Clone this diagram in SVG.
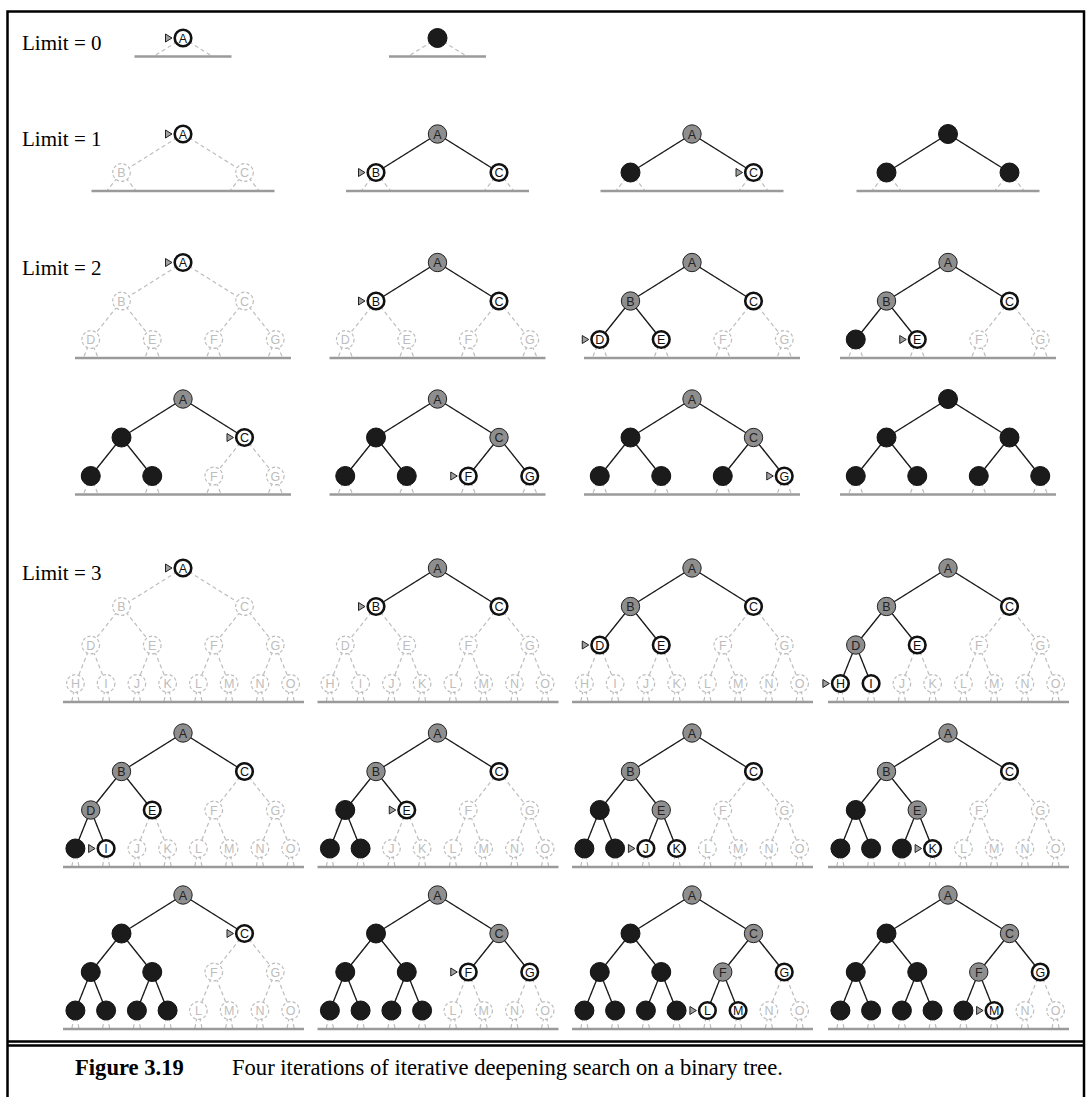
<svg xmlns="http://www.w3.org/2000/svg" xmlns:xlink="http://www.w3.org/1999/xlink" width="1089" height="1097" viewBox="0 0 1089 1097">
<style>
.lbl{font-family:"Liberation Serif","Times New Roman",serif;font-size:21px;fill:#000}
.cap{font-family:"Liberation Serif","Times New Roman",serif;font-size:22.6px;fill:#000}
.u text,.f text,.e text{font-family:"Liberation Sans",Arial,sans-serif;font-size:12.5px;text-anchor:middle}
.u circle{fill:#fff;stroke:#bdbdbd;stroke-width:1.2;stroke-dasharray:3.2 2.2;r:8.8px}
.u text{fill:#bdbdbd}
.f circle{fill:#fff;stroke:#111;stroke-width:2.6;r:8.3px}
.f text{fill:#111}
.e circle{fill:#8e8e8e;stroke:#222;stroke-width:1;r:9.2px}
.e text{fill:#222}
.x circle{fill:#1b1b1b;stroke:#111;stroke-width:1;r:9.5px}
.mk{fill:#a0a0a0;stroke:#222;stroke-width:1}
.dash{fill:none;stroke:#bdbdbd;stroke-width:1.2;stroke-dasharray:4 3}
.base{fill:none;stroke:#9a9a9a;stroke-width:2.6}
.solid{fill:none;stroke:#1a1a1a;stroke-width:1.3}
.frame{fill:none;stroke:#000;stroke-width:2.5}
</style>
<defs>
<g id="sk0"><path class="dash" d="M0 0L-29.55 18.5M0 0L29.55 18.5"/><path class="base" d="M-48.5 18.5H48.5"/></g>
<g id="sk1"><path class="dash" d="M0 0L-61.5 38.5M0 0L61.5 38.5M-61.5 38.5L-76.3 57M-61.5 38.5L-46.7 57M61.5 38.5L46.7 57M61.5 38.5L76.3 57"/><path class="base" d="M-91.5 57H91.5"/></g>
<g id="sk2"><path class="dash" d="M0 0L-61.5 38.5M0 0L61.5 38.5M-61.5 38.5L-92.25 77M-61.5 38.5L-30.75 77M61.5 38.5L30.75 77M61.5 38.5L92.25 77M-92.25 77L-99.65 95.5M-92.25 77L-84.85 95.5M-30.75 77L-38.15 95.5M-30.75 77L-23.35 95.5M30.75 77L23.35 95.5M30.75 77L38.15 95.5M92.25 77L84.85 95.5M92.25 77L99.65 95.5"/><path class="base" d="M-108 95.5H108"/></g>
<g id="sk3"><path class="dash" d="M0 0L-61.5 38.5M0 0L61.5 38.5M-61.5 38.5L-92.25 77M-61.5 38.5L-30.75 77M61.5 38.5L30.75 77M61.5 38.5L92.25 77M-92.25 77L-107.6 115.5M-92.25 77L-76.9 115.5M-30.75 77L-46.1 115.5M-30.75 77L-15.4 115.5M30.75 77L15.4 115.5M30.75 77L46.1 115.5M92.25 77L76.9 115.5M92.25 77L107.6 115.5M-107.6 115.5L-111.3 134M-107.6 115.5L-103.9 134M-76.9 115.5L-80.6 134M-76.9 115.5L-73.2 134M-46.1 115.5L-49.8 134M-46.1 115.5L-42.4 134M-15.4 115.5L-19.1 134M-15.4 115.5L-11.7 134M15.4 115.5L11.7 134M15.4 115.5L19.1 134M46.1 115.5L42.4 134M46.1 115.5L49.8 134M76.9 115.5L73.2 134M76.9 115.5L80.6 134M107.6 115.5L103.9 134M107.6 115.5L111.3 134"/><path class="base" d="M-120 134H121"/></g>
</defs>
<rect width="1089" height="1097" fill="#fff"/>
<g id="frame">
<path class="frame" d="M7.5 1097V11.5H1084V1097"/>
<path class="frame" d="M7.5 1041.5H1084M7.5 1045.5H1084"/>
</g>
<g id="labels">
<text class="lbl" x="22" y="49.5">Limit = 0</text>
<text class="lbl" x="22" y="146">Limit = 1</text>
<text class="lbl" x="22" y="274.5">Limit = 2</text>
<text class="lbl" x="22" y="580">Limit = 3</text>
</g>
<g id="connectors">
<use xlink:href="#sk0" x="183" y="38"/>
<use xlink:href="#sk0" x="437.5" y="38"/>
<use xlink:href="#sk1" x="183" y="134"/>
<use xlink:href="#sk1" x="437.5" y="134"/>
<use xlink:href="#sk1" x="692" y="134"/>
<use xlink:href="#sk1" x="948" y="134"/>
<use xlink:href="#sk2" x="183" y="262.5"/>
<use xlink:href="#sk2" x="437.5" y="262.5"/>
<use xlink:href="#sk2" x="692" y="262.5"/>
<use xlink:href="#sk2" x="948" y="262.5"/>
<use xlink:href="#sk2" x="183" y="399"/>
<use xlink:href="#sk2" x="437.5" y="399"/>
<use xlink:href="#sk2" x="692" y="399"/>
<use xlink:href="#sk2" x="948" y="399"/>
<use xlink:href="#sk3" x="183" y="568"/>
<use xlink:href="#sk3" x="437.5" y="568"/>
<use xlink:href="#sk3" x="692" y="568"/>
<use xlink:href="#sk3" x="948" y="568"/>
<use xlink:href="#sk3" x="183" y="733"/>
<use xlink:href="#sk3" x="437.5" y="733"/>
<use xlink:href="#sk3" x="692" y="733"/>
<use xlink:href="#sk3" x="948" y="733"/>
<use xlink:href="#sk3" x="183" y="895"/>
<use xlink:href="#sk3" x="437.5" y="895"/>
<use xlink:href="#sk3" x="692" y="895"/>
<use xlink:href="#sk3" x="948" y="895"/>
<path class="solid" transform="translate(437.5 134)" d="M-61.5 38.5L0 0L61.5 38.5"/>
<path class="solid" transform="translate(692 134)" d="M-61.5 38.5L0 0L61.5 38.5"/>
<path class="solid" transform="translate(948 134)" d="M-61.5 38.5L0 0L61.5 38.5"/>
<path class="solid" transform="translate(437.5 262.5)" d="M-61.5 38.5L0 0L61.5 38.5"/>
<path class="solid" transform="translate(692 262.5)" d="M-61.5 38.5L0 0L61.5 38.5M-92.25 77L-61.5 38.5L-30.75 77"/>
<path class="solid" transform="translate(948 262.5)" d="M-61.5 38.5L0 0L61.5 38.5M-92.25 77L-61.5 38.5L-30.75 77"/>
<path class="solid" transform="translate(183 399)" d="M-61.5 38.5L0 0L61.5 38.5M-92.25 77L-61.5 38.5L-30.75 77"/>
<path class="solid" transform="translate(437.5 399)" d="M-61.5 38.5L0 0L61.5 38.5M-92.25 77L-61.5 38.5L-30.75 77M30.75 77L61.5 38.5L92.25 77"/>
<path class="solid" transform="translate(692 399)" d="M-61.5 38.5L0 0L61.5 38.5M-92.25 77L-61.5 38.5L-30.75 77M30.75 77L61.5 38.5L92.25 77"/>
<path class="solid" transform="translate(948 399)" d="M-61.5 38.5L0 0L61.5 38.5M-92.25 77L-61.5 38.5L-30.75 77M30.75 77L61.5 38.5L92.25 77"/>
<path class="solid" transform="translate(437.5 568)" d="M-61.5 38.5L0 0L61.5 38.5"/>
<path class="solid" transform="translate(692 568)" d="M-61.5 38.5L0 0L61.5 38.5M-92.25 77L-61.5 38.5L-30.75 77"/>
<path class="solid" transform="translate(948 568)" d="M-61.5 38.5L0 0L61.5 38.5M-92.25 77L-61.5 38.5L-30.75 77M-107.6 115.5L-92.25 77L-76.9 115.5"/>
<path class="solid" transform="translate(183 733)" d="M-61.5 38.5L0 0L61.5 38.5M-92.25 77L-61.5 38.5L-30.75 77M-107.6 115.5L-92.25 77L-76.9 115.5"/>
<path class="solid" transform="translate(437.5 733)" d="M-61.5 38.5L0 0L61.5 38.5M-92.25 77L-61.5 38.5L-30.75 77M-107.6 115.5L-92.25 77L-76.9 115.5"/>
<path class="solid" transform="translate(692 733)" d="M-61.5 38.5L0 0L61.5 38.5M-92.25 77L-61.5 38.5L-30.75 77M-107.6 115.5L-92.25 77L-76.9 115.5M-46.1 115.5L-30.75 77L-15.4 115.5"/>
<path class="solid" transform="translate(948 733)" d="M-61.5 38.5L0 0L61.5 38.5M-92.25 77L-61.5 38.5L-30.75 77M-107.6 115.5L-92.25 77L-76.9 115.5M-46.1 115.5L-30.75 77L-15.4 115.5"/>
<path class="solid" transform="translate(183 895)" d="M-61.5 38.5L0 0L61.5 38.5M-92.25 77L-61.5 38.5L-30.75 77M-107.6 115.5L-92.25 77L-76.9 115.5M-46.1 115.5L-30.75 77L-15.4 115.5"/>
<path class="solid" transform="translate(437.5 895)" d="M-61.5 38.5L0 0L61.5 38.5M-92.25 77L-61.5 38.5L-30.75 77M30.75 77L61.5 38.5L92.25 77M-107.6 115.5L-92.25 77L-76.9 115.5M-46.1 115.5L-30.75 77L-15.4 115.5"/>
<path class="solid" transform="translate(692 895)" d="M-61.5 38.5L0 0L61.5 38.5M-92.25 77L-61.5 38.5L-30.75 77M30.75 77L61.5 38.5L92.25 77M-107.6 115.5L-92.25 77L-76.9 115.5M-46.1 115.5L-30.75 77L-15.4 115.5M15.4 115.5L30.75 77L46.1 115.5"/>
<path class="solid" transform="translate(948 895)" d="M-61.5 38.5L0 0L61.5 38.5M-92.25 77L-61.5 38.5L-30.75 77M30.75 77L61.5 38.5L92.25 77M-107.6 115.5L-92.25 77L-76.9 115.5M-46.1 115.5L-30.75 77L-15.4 115.5M15.4 115.5L30.75 77L46.1 115.5"/>
</g>
<g id="nodes">
<g id="L0-1" transform="translate(183 38)">
<g id="L0-1-A" class="f"><circle r="8.3"/><text y="4.5">A</text><path class="mk" d="M-17.5 -4L-11 0L-17.5 4Z"/></g>
</g>
<g id="L0-2" transform="translate(437.5 38)">
<g id="L0-2-A" class="x"><circle r="9.5"/></g>
</g>
<g id="L1-1" transform="translate(183 134)">
<g id="L1-1-A" class="f"><circle r="8.3"/><text y="4.5">A</text><path class="mk" d="M-17.5 -4L-11 0L-17.5 4Z"/></g>
<g id="L1-1-B" class="u" transform="translate(-61.5 38.5)"><circle r="8.8"/><text y="4.5">B</text></g>
<g id="L1-1-C" class="u" transform="translate(61.5 38.5)"><circle r="8.8"/><text y="4.5">C</text></g>
</g>
<g id="L1-2" transform="translate(437.5 134)">
<g id="L1-2-A" class="e"><circle r="9.2"/><text y="4.5">A</text></g>
<g id="L1-2-B" class="f" transform="translate(-61.5 38.5)"><circle r="8.3"/><text y="4.5">B</text><path class="mk" d="M-17.5 -4L-11 0L-17.5 4Z"/></g>
<g id="L1-2-C" class="f" transform="translate(61.5 38.5)"><circle r="8.3"/><text y="4.5">C</text></g>
</g>
<g id="L1-3" transform="translate(692 134)">
<g id="L1-3-A" class="e"><circle r="9.2"/><text y="4.5">A</text></g>
<g id="L1-3-B" class="x" transform="translate(-61.5 38.5)"><circle r="9.5"/></g>
<g id="L1-3-C" class="f" transform="translate(61.5 38.5)"><circle r="8.3"/><text y="4.5">C</text><path class="mk" d="M-17.5 -4L-11 0L-17.5 4Z"/></g>
</g>
<g id="L1-4" transform="translate(948 134)">
<g id="L1-4-A" class="x"><circle r="9.5"/></g>
<g id="L1-4-B" class="x" transform="translate(-61.5 38.5)"><circle r="9.5"/></g>
<g id="L1-4-C" class="x" transform="translate(61.5 38.5)"><circle r="9.5"/></g>
</g>
<g id="L2a-1" transform="translate(183 262.5)">
<g id="L2a-1-A" class="f"><circle r="8.3"/><text y="4.5">A</text><path class="mk" d="M-17.5 -4L-11 0L-17.5 4Z"/></g>
<g id="L2a-1-B" class="u" transform="translate(-61.5 38.5)"><circle r="8.8"/><text y="4.5">B</text></g>
<g id="L2a-1-C" class="u" transform="translate(61.5 38.5)"><circle r="8.8"/><text y="4.5">C</text></g>
<g id="L2a-1-D" class="u" transform="translate(-92.25 77)"><circle r="8.8"/><text y="4.5">D</text></g>
<g id="L2a-1-E" class="u" transform="translate(-30.75 77)"><circle r="8.8"/><text y="4.5">E</text></g>
<g id="L2a-1-F" class="u" transform="translate(30.75 77)"><circle r="8.8"/><text y="4.5">F</text></g>
<g id="L2a-1-G" class="u" transform="translate(92.25 77)"><circle r="8.8"/><text y="4.5">G</text></g>
</g>
<g id="L2a-2" transform="translate(437.5 262.5)">
<g id="L2a-2-A" class="e"><circle r="9.2"/><text y="4.5">A</text></g>
<g id="L2a-2-B" class="f" transform="translate(-61.5 38.5)"><circle r="8.3"/><text y="4.5">B</text><path class="mk" d="M-17.5 -4L-11 0L-17.5 4Z"/></g>
<g id="L2a-2-C" class="f" transform="translate(61.5 38.5)"><circle r="8.3"/><text y="4.5">C</text></g>
<g id="L2a-2-D" class="u" transform="translate(-92.25 77)"><circle r="8.8"/><text y="4.5">D</text></g>
<g id="L2a-2-E" class="u" transform="translate(-30.75 77)"><circle r="8.8"/><text y="4.5">E</text></g>
<g id="L2a-2-F" class="u" transform="translate(30.75 77)"><circle r="8.8"/><text y="4.5">F</text></g>
<g id="L2a-2-G" class="u" transform="translate(92.25 77)"><circle r="8.8"/><text y="4.5">G</text></g>
</g>
<g id="L2a-3" transform="translate(692 262.5)">
<g id="L2a-3-A" class="e"><circle r="9.2"/><text y="4.5">A</text></g>
<g id="L2a-3-B" class="e" transform="translate(-61.5 38.5)"><circle r="9.2"/><text y="4.5">B</text></g>
<g id="L2a-3-C" class="f" transform="translate(61.5 38.5)"><circle r="8.3"/><text y="4.5">C</text></g>
<g id="L2a-3-D" class="f" transform="translate(-92.25 77)"><circle r="8.3"/><text y="4.5">D</text><path class="mk" d="M-17.5 -4L-11 0L-17.5 4Z"/></g>
<g id="L2a-3-E" class="f" transform="translate(-30.75 77)"><circle r="8.3"/><text y="4.5">E</text></g>
<g id="L2a-3-F" class="u" transform="translate(30.75 77)"><circle r="8.8"/><text y="4.5">F</text></g>
<g id="L2a-3-G" class="u" transform="translate(92.25 77)"><circle r="8.8"/><text y="4.5">G</text></g>
</g>
<g id="L2a-4" transform="translate(948 262.5)">
<g id="L2a-4-A" class="e"><circle r="9.2"/><text y="4.5">A</text></g>
<g id="L2a-4-B" class="e" transform="translate(-61.5 38.5)"><circle r="9.2"/><text y="4.5">B</text></g>
<g id="L2a-4-C" class="f" transform="translate(61.5 38.5)"><circle r="8.3"/><text y="4.5">C</text></g>
<g id="L2a-4-D" class="x" transform="translate(-92.25 77)"><circle r="9.5"/></g>
<g id="L2a-4-E" class="f" transform="translate(-30.75 77)"><circle r="8.3"/><text y="4.5">E</text><path class="mk" d="M-17.5 -4L-11 0L-17.5 4Z"/></g>
<g id="L2a-4-F" class="u" transform="translate(30.75 77)"><circle r="8.8"/><text y="4.5">F</text></g>
<g id="L2a-4-G" class="u" transform="translate(92.25 77)"><circle r="8.8"/><text y="4.5">G</text></g>
</g>
<g id="L2b-1" transform="translate(183 399)">
<g id="L2b-1-A" class="e"><circle r="9.2"/><text y="4.5">A</text></g>
<g id="L2b-1-B" class="x" transform="translate(-61.5 38.5)"><circle r="9.5"/></g>
<g id="L2b-1-C" class="f" transform="translate(61.5 38.5)"><circle r="8.3"/><text y="4.5">C</text><path class="mk" d="M-17.5 -4L-11 0L-17.5 4Z"/></g>
<g id="L2b-1-D" class="x" transform="translate(-92.25 77)"><circle r="9.5"/></g>
<g id="L2b-1-E" class="x" transform="translate(-30.75 77)"><circle r="9.5"/></g>
<g id="L2b-1-F" class="u" transform="translate(30.75 77)"><circle r="8.8"/><text y="4.5">F</text></g>
<g id="L2b-1-G" class="u" transform="translate(92.25 77)"><circle r="8.8"/><text y="4.5">G</text></g>
</g>
<g id="L2b-2" transform="translate(437.5 399)">
<g id="L2b-2-A" class="e"><circle r="9.2"/><text y="4.5">A</text></g>
<g id="L2b-2-B" class="x" transform="translate(-61.5 38.5)"><circle r="9.5"/></g>
<g id="L2b-2-C" class="e" transform="translate(61.5 38.5)"><circle r="9.2"/><text y="4.5">C</text></g>
<g id="L2b-2-D" class="x" transform="translate(-92.25 77)"><circle r="9.5"/></g>
<g id="L2b-2-E" class="x" transform="translate(-30.75 77)"><circle r="9.5"/></g>
<g id="L2b-2-F" class="f" transform="translate(30.75 77)"><circle r="8.3"/><text y="4.5">F</text><path class="mk" d="M-17.5 -4L-11 0L-17.5 4Z"/></g>
<g id="L2b-2-G" class="f" transform="translate(92.25 77)"><circle r="8.3"/><text y="4.5">G</text></g>
</g>
<g id="L2b-3" transform="translate(692 399)">
<g id="L2b-3-A" class="e"><circle r="9.2"/><text y="4.5">A</text></g>
<g id="L2b-3-B" class="x" transform="translate(-61.5 38.5)"><circle r="9.5"/></g>
<g id="L2b-3-C" class="e" transform="translate(61.5 38.5)"><circle r="9.2"/><text y="4.5">C</text></g>
<g id="L2b-3-D" class="x" transform="translate(-92.25 77)"><circle r="9.5"/></g>
<g id="L2b-3-E" class="x" transform="translate(-30.75 77)"><circle r="9.5"/></g>
<g id="L2b-3-F" class="x" transform="translate(30.75 77)"><circle r="9.5"/></g>
<g id="L2b-3-G" class="f" transform="translate(92.25 77)"><circle r="8.3"/><text y="4.5">G</text><path class="mk" d="M-17.5 -4L-11 0L-17.5 4Z"/></g>
</g>
<g id="L2b-4" transform="translate(948 399)">
<g id="L2b-4-A" class="x"><circle r="9.5"/></g>
<g id="L2b-4-B" class="x" transform="translate(-61.5 38.5)"><circle r="9.5"/></g>
<g id="L2b-4-C" class="x" transform="translate(61.5 38.5)"><circle r="9.5"/></g>
<g id="L2b-4-D" class="x" transform="translate(-92.25 77)"><circle r="9.5"/></g>
<g id="L2b-4-E" class="x" transform="translate(-30.75 77)"><circle r="9.5"/></g>
<g id="L2b-4-F" class="x" transform="translate(30.75 77)"><circle r="9.5"/></g>
<g id="L2b-4-G" class="x" transform="translate(92.25 77)"><circle r="9.5"/></g>
</g>
<g id="L3a-1" transform="translate(183 568)">
<g id="L3a-1-A" class="f"><circle r="8.3"/><text y="4.5">A</text><path class="mk" d="M-17.5 -4L-11 0L-17.5 4Z"/></g>
<g id="L3a-1-B" class="u" transform="translate(-61.5 38.5)"><circle r="8.8"/><text y="4.5">B</text></g>
<g id="L3a-1-C" class="u" transform="translate(61.5 38.5)"><circle r="8.8"/><text y="4.5">C</text></g>
<g id="L3a-1-D" class="u" transform="translate(-92.25 77)"><circle r="8.8"/><text y="4.5">D</text></g>
<g id="L3a-1-E" class="u" transform="translate(-30.75 77)"><circle r="8.8"/><text y="4.5">E</text></g>
<g id="L3a-1-F" class="u" transform="translate(30.75 77)"><circle r="8.8"/><text y="4.5">F</text></g>
<g id="L3a-1-G" class="u" transform="translate(92.25 77)"><circle r="8.8"/><text y="4.5">G</text></g>
<g id="L3a-1-H" class="u" transform="translate(-107.6 115.5)"><circle r="8.8"/><text y="4.5">H</text></g>
<g id="L3a-1-I" class="u" transform="translate(-76.9 115.5)"><circle r="8.8"/><text y="4.5">I</text></g>
<g id="L3a-1-J" class="u" transform="translate(-46.1 115.5)"><circle r="8.8"/><text y="4.5">J</text></g>
<g id="L3a-1-K" class="u" transform="translate(-15.4 115.5)"><circle r="8.8"/><text y="4.5">K</text></g>
<g id="L3a-1-L" class="u" transform="translate(15.4 115.5)"><circle r="8.8"/><text y="4.5">L</text></g>
<g id="L3a-1-M" class="u" transform="translate(46.1 115.5)"><circle r="8.8"/><text y="4.5">M</text></g>
<g id="L3a-1-N" class="u" transform="translate(76.9 115.5)"><circle r="8.8"/><text y="4.5">N</text></g>
<g id="L3a-1-O" class="u" transform="translate(107.6 115.5)"><circle r="8.8"/><text y="4.5">O</text></g>
</g>
<g id="L3a-2" transform="translate(437.5 568)">
<g id="L3a-2-A" class="e"><circle r="9.2"/><text y="4.5">A</text></g>
<g id="L3a-2-B" class="f" transform="translate(-61.5 38.5)"><circle r="8.3"/><text y="4.5">B</text><path class="mk" d="M-17.5 -4L-11 0L-17.5 4Z"/></g>
<g id="L3a-2-C" class="f" transform="translate(61.5 38.5)"><circle r="8.3"/><text y="4.5">C</text></g>
<g id="L3a-2-D" class="u" transform="translate(-92.25 77)"><circle r="8.8"/><text y="4.5">D</text></g>
<g id="L3a-2-E" class="u" transform="translate(-30.75 77)"><circle r="8.8"/><text y="4.5">E</text></g>
<g id="L3a-2-F" class="u" transform="translate(30.75 77)"><circle r="8.8"/><text y="4.5">F</text></g>
<g id="L3a-2-G" class="u" transform="translate(92.25 77)"><circle r="8.8"/><text y="4.5">G</text></g>
<g id="L3a-2-H" class="u" transform="translate(-107.6 115.5)"><circle r="8.8"/><text y="4.5">H</text></g>
<g id="L3a-2-I" class="u" transform="translate(-76.9 115.5)"><circle r="8.8"/><text y="4.5">I</text></g>
<g id="L3a-2-J" class="u" transform="translate(-46.1 115.5)"><circle r="8.8"/><text y="4.5">J</text></g>
<g id="L3a-2-K" class="u" transform="translate(-15.4 115.5)"><circle r="8.8"/><text y="4.5">K</text></g>
<g id="L3a-2-L" class="u" transform="translate(15.4 115.5)"><circle r="8.8"/><text y="4.5">L</text></g>
<g id="L3a-2-M" class="u" transform="translate(46.1 115.5)"><circle r="8.8"/><text y="4.5">M</text></g>
<g id="L3a-2-N" class="u" transform="translate(76.9 115.5)"><circle r="8.8"/><text y="4.5">N</text></g>
<g id="L3a-2-O" class="u" transform="translate(107.6 115.5)"><circle r="8.8"/><text y="4.5">O</text></g>
</g>
<g id="L3a-3" transform="translate(692 568)">
<g id="L3a-3-A" class="e"><circle r="9.2"/><text y="4.5">A</text></g>
<g id="L3a-3-B" class="e" transform="translate(-61.5 38.5)"><circle r="9.2"/><text y="4.5">B</text></g>
<g id="L3a-3-C" class="f" transform="translate(61.5 38.5)"><circle r="8.3"/><text y="4.5">C</text></g>
<g id="L3a-3-D" class="f" transform="translate(-92.25 77)"><circle r="8.3"/><text y="4.5">D</text><path class="mk" d="M-17.5 -4L-11 0L-17.5 4Z"/></g>
<g id="L3a-3-E" class="f" transform="translate(-30.75 77)"><circle r="8.3"/><text y="4.5">E</text></g>
<g id="L3a-3-F" class="u" transform="translate(30.75 77)"><circle r="8.8"/><text y="4.5">F</text></g>
<g id="L3a-3-G" class="u" transform="translate(92.25 77)"><circle r="8.8"/><text y="4.5">G</text></g>
<g id="L3a-3-H" class="u" transform="translate(-107.6 115.5)"><circle r="8.8"/><text y="4.5">H</text></g>
<g id="L3a-3-I" class="u" transform="translate(-76.9 115.5)"><circle r="8.8"/><text y="4.5">I</text></g>
<g id="L3a-3-J" class="u" transform="translate(-46.1 115.5)"><circle r="8.8"/><text y="4.5">J</text></g>
<g id="L3a-3-K" class="u" transform="translate(-15.4 115.5)"><circle r="8.8"/><text y="4.5">K</text></g>
<g id="L3a-3-L" class="u" transform="translate(15.4 115.5)"><circle r="8.8"/><text y="4.5">L</text></g>
<g id="L3a-3-M" class="u" transform="translate(46.1 115.5)"><circle r="8.8"/><text y="4.5">M</text></g>
<g id="L3a-3-N" class="u" transform="translate(76.9 115.5)"><circle r="8.8"/><text y="4.5">N</text></g>
<g id="L3a-3-O" class="u" transform="translate(107.6 115.5)"><circle r="8.8"/><text y="4.5">O</text></g>
</g>
<g id="L3a-4" transform="translate(948 568)">
<g id="L3a-4-A" class="e"><circle r="9.2"/><text y="4.5">A</text></g>
<g id="L3a-4-B" class="e" transform="translate(-61.5 38.5)"><circle r="9.2"/><text y="4.5">B</text></g>
<g id="L3a-4-C" class="f" transform="translate(61.5 38.5)"><circle r="8.3"/><text y="4.5">C</text></g>
<g id="L3a-4-D" class="e" transform="translate(-92.25 77)"><circle r="9.2"/><text y="4.5">D</text></g>
<g id="L3a-4-E" class="f" transform="translate(-30.75 77)"><circle r="8.3"/><text y="4.5">E</text></g>
<g id="L3a-4-F" class="u" transform="translate(30.75 77)"><circle r="8.8"/><text y="4.5">F</text></g>
<g id="L3a-4-G" class="u" transform="translate(92.25 77)"><circle r="8.8"/><text y="4.5">G</text></g>
<g id="L3a-4-H" class="f" transform="translate(-107.6 115.5)"><circle r="8.3"/><text y="4.5">H</text><path class="mk" d="M-17.5 -4L-11 0L-17.5 4Z"/></g>
<g id="L3a-4-I" class="f" transform="translate(-76.9 115.5)"><circle r="8.3"/><text y="4.5">I</text></g>
<g id="L3a-4-J" class="u" transform="translate(-46.1 115.5)"><circle r="8.8"/><text y="4.5">J</text></g>
<g id="L3a-4-K" class="u" transform="translate(-15.4 115.5)"><circle r="8.8"/><text y="4.5">K</text></g>
<g id="L3a-4-L" class="u" transform="translate(15.4 115.5)"><circle r="8.8"/><text y="4.5">L</text></g>
<g id="L3a-4-M" class="u" transform="translate(46.1 115.5)"><circle r="8.8"/><text y="4.5">M</text></g>
<g id="L3a-4-N" class="u" transform="translate(76.9 115.5)"><circle r="8.8"/><text y="4.5">N</text></g>
<g id="L3a-4-O" class="u" transform="translate(107.6 115.5)"><circle r="8.8"/><text y="4.5">O</text></g>
</g>
<g id="L3b-1" transform="translate(183 733)">
<g id="L3b-1-A" class="e"><circle r="9.2"/><text y="4.5">A</text></g>
<g id="L3b-1-B" class="e" transform="translate(-61.5 38.5)"><circle r="9.2"/><text y="4.5">B</text></g>
<g id="L3b-1-C" class="f" transform="translate(61.5 38.5)"><circle r="8.3"/><text y="4.5">C</text></g>
<g id="L3b-1-D" class="e" transform="translate(-92.25 77)"><circle r="9.2"/><text y="4.5">D</text></g>
<g id="L3b-1-E" class="f" transform="translate(-30.75 77)"><circle r="8.3"/><text y="4.5">E</text></g>
<g id="L3b-1-F" class="u" transform="translate(30.75 77)"><circle r="8.8"/><text y="4.5">F</text></g>
<g id="L3b-1-G" class="u" transform="translate(92.25 77)"><circle r="8.8"/><text y="4.5">G</text></g>
<g id="L3b-1-H" class="x" transform="translate(-107.6 115.5)"><circle r="9.5"/></g>
<g id="L3b-1-I" class="f" transform="translate(-76.9 115.5)"><circle r="8.3"/><text y="4.5">I</text><path class="mk" d="M-17.5 -4L-11 0L-17.5 4Z"/></g>
<g id="L3b-1-J" class="u" transform="translate(-46.1 115.5)"><circle r="8.8"/><text y="4.5">J</text></g>
<g id="L3b-1-K" class="u" transform="translate(-15.4 115.5)"><circle r="8.8"/><text y="4.5">K</text></g>
<g id="L3b-1-L" class="u" transform="translate(15.4 115.5)"><circle r="8.8"/><text y="4.5">L</text></g>
<g id="L3b-1-M" class="u" transform="translate(46.1 115.5)"><circle r="8.8"/><text y="4.5">M</text></g>
<g id="L3b-1-N" class="u" transform="translate(76.9 115.5)"><circle r="8.8"/><text y="4.5">N</text></g>
<g id="L3b-1-O" class="u" transform="translate(107.6 115.5)"><circle r="8.8"/><text y="4.5">O</text></g>
</g>
<g id="L3b-2" transform="translate(437.5 733)">
<g id="L3b-2-A" class="e"><circle r="9.2"/><text y="4.5">A</text></g>
<g id="L3b-2-B" class="e" transform="translate(-61.5 38.5)"><circle r="9.2"/><text y="4.5">B</text></g>
<g id="L3b-2-C" class="f" transform="translate(61.5 38.5)"><circle r="8.3"/><text y="4.5">C</text></g>
<g id="L3b-2-D" class="x" transform="translate(-92.25 77)"><circle r="9.5"/></g>
<g id="L3b-2-E" class="f" transform="translate(-30.75 77)"><circle r="8.3"/><text y="4.5">E</text><path class="mk" d="M-17.5 -4L-11 0L-17.5 4Z"/></g>
<g id="L3b-2-F" class="u" transform="translate(30.75 77)"><circle r="8.8"/><text y="4.5">F</text></g>
<g id="L3b-2-G" class="u" transform="translate(92.25 77)"><circle r="8.8"/><text y="4.5">G</text></g>
<g id="L3b-2-H" class="x" transform="translate(-107.6 115.5)"><circle r="9.5"/></g>
<g id="L3b-2-I" class="x" transform="translate(-76.9 115.5)"><circle r="9.5"/></g>
<g id="L3b-2-J" class="u" transform="translate(-46.1 115.5)"><circle r="8.8"/><text y="4.5">J</text></g>
<g id="L3b-2-K" class="u" transform="translate(-15.4 115.5)"><circle r="8.8"/><text y="4.5">K</text></g>
<g id="L3b-2-L" class="u" transform="translate(15.4 115.5)"><circle r="8.8"/><text y="4.5">L</text></g>
<g id="L3b-2-M" class="u" transform="translate(46.1 115.5)"><circle r="8.8"/><text y="4.5">M</text></g>
<g id="L3b-2-N" class="u" transform="translate(76.9 115.5)"><circle r="8.8"/><text y="4.5">N</text></g>
<g id="L3b-2-O" class="u" transform="translate(107.6 115.5)"><circle r="8.8"/><text y="4.5">O</text></g>
</g>
<g id="L3b-3" transform="translate(692 733)">
<g id="L3b-3-A" class="e"><circle r="9.2"/><text y="4.5">A</text></g>
<g id="L3b-3-B" class="e" transform="translate(-61.5 38.5)"><circle r="9.2"/><text y="4.5">B</text></g>
<g id="L3b-3-C" class="f" transform="translate(61.5 38.5)"><circle r="8.3"/><text y="4.5">C</text></g>
<g id="L3b-3-D" class="x" transform="translate(-92.25 77)"><circle r="9.5"/></g>
<g id="L3b-3-E" class="e" transform="translate(-30.75 77)"><circle r="9.2"/><text y="4.5">E</text></g>
<g id="L3b-3-F" class="u" transform="translate(30.75 77)"><circle r="8.8"/><text y="4.5">F</text></g>
<g id="L3b-3-G" class="u" transform="translate(92.25 77)"><circle r="8.8"/><text y="4.5">G</text></g>
<g id="L3b-3-H" class="x" transform="translate(-107.6 115.5)"><circle r="9.5"/></g>
<g id="L3b-3-I" class="x" transform="translate(-76.9 115.5)"><circle r="9.5"/></g>
<g id="L3b-3-J" class="f" transform="translate(-46.1 115.5)"><circle r="8.3"/><text y="4.5">J</text><path class="mk" d="M-17.5 -4L-11 0L-17.5 4Z"/></g>
<g id="L3b-3-K" class="f" transform="translate(-15.4 115.5)"><circle r="8.3"/><text y="4.5">K</text></g>
<g id="L3b-3-L" class="u" transform="translate(15.4 115.5)"><circle r="8.8"/><text y="4.5">L</text></g>
<g id="L3b-3-M" class="u" transform="translate(46.1 115.5)"><circle r="8.8"/><text y="4.5">M</text></g>
<g id="L3b-3-N" class="u" transform="translate(76.9 115.5)"><circle r="8.8"/><text y="4.5">N</text></g>
<g id="L3b-3-O" class="u" transform="translate(107.6 115.5)"><circle r="8.8"/><text y="4.5">O</text></g>
</g>
<g id="L3b-4" transform="translate(948 733)">
<g id="L3b-4-A" class="e"><circle r="9.2"/><text y="4.5">A</text></g>
<g id="L3b-4-B" class="e" transform="translate(-61.5 38.5)"><circle r="9.2"/><text y="4.5">B</text></g>
<g id="L3b-4-C" class="f" transform="translate(61.5 38.5)"><circle r="8.3"/><text y="4.5">C</text></g>
<g id="L3b-4-D" class="x" transform="translate(-92.25 77)"><circle r="9.5"/></g>
<g id="L3b-4-E" class="e" transform="translate(-30.75 77)"><circle r="9.2"/><text y="4.5">E</text></g>
<g id="L3b-4-F" class="u" transform="translate(30.75 77)"><circle r="8.8"/><text y="4.5">F</text></g>
<g id="L3b-4-G" class="u" transform="translate(92.25 77)"><circle r="8.8"/><text y="4.5">G</text></g>
<g id="L3b-4-H" class="x" transform="translate(-107.6 115.5)"><circle r="9.5"/></g>
<g id="L3b-4-I" class="x" transform="translate(-76.9 115.5)"><circle r="9.5"/></g>
<g id="L3b-4-J" class="x" transform="translate(-46.1 115.5)"><circle r="9.5"/></g>
<g id="L3b-4-K" class="f" transform="translate(-15.4 115.5)"><circle r="8.3"/><text y="4.5">K</text><path class="mk" d="M-17.5 -4L-11 0L-17.5 4Z"/></g>
<g id="L3b-4-L" class="u" transform="translate(15.4 115.5)"><circle r="8.8"/><text y="4.5">L</text></g>
<g id="L3b-4-M" class="u" transform="translate(46.1 115.5)"><circle r="8.8"/><text y="4.5">M</text></g>
<g id="L3b-4-N" class="u" transform="translate(76.9 115.5)"><circle r="8.8"/><text y="4.5">N</text></g>
<g id="L3b-4-O" class="u" transform="translate(107.6 115.5)"><circle r="8.8"/><text y="4.5">O</text></g>
</g>
<g id="L3c-1" transform="translate(183 895)">
<g id="L3c-1-A" class="e"><circle r="9.2"/><text y="4.5">A</text></g>
<g id="L3c-1-B" class="x" transform="translate(-61.5 38.5)"><circle r="9.5"/></g>
<g id="L3c-1-C" class="f" transform="translate(61.5 38.5)"><circle r="8.3"/><text y="4.5">C</text><path class="mk" d="M-17.5 -4L-11 0L-17.5 4Z"/></g>
<g id="L3c-1-D" class="x" transform="translate(-92.25 77)"><circle r="9.5"/></g>
<g id="L3c-1-E" class="x" transform="translate(-30.75 77)"><circle r="9.5"/></g>
<g id="L3c-1-F" class="u" transform="translate(30.75 77)"><circle r="8.8"/><text y="4.5">F</text></g>
<g id="L3c-1-G" class="u" transform="translate(92.25 77)"><circle r="8.8"/><text y="4.5">G</text></g>
<g id="L3c-1-H" class="x" transform="translate(-107.6 115.5)"><circle r="9.5"/></g>
<g id="L3c-1-I" class="x" transform="translate(-76.9 115.5)"><circle r="9.5"/></g>
<g id="L3c-1-J" class="x" transform="translate(-46.1 115.5)"><circle r="9.5"/></g>
<g id="L3c-1-K" class="x" transform="translate(-15.4 115.5)"><circle r="9.5"/></g>
<g id="L3c-1-L" class="u" transform="translate(15.4 115.5)"><circle r="8.8"/><text y="4.5">L</text></g>
<g id="L3c-1-M" class="u" transform="translate(46.1 115.5)"><circle r="8.8"/><text y="4.5">M</text></g>
<g id="L3c-1-N" class="u" transform="translate(76.9 115.5)"><circle r="8.8"/><text y="4.5">N</text></g>
<g id="L3c-1-O" class="u" transform="translate(107.6 115.5)"><circle r="8.8"/><text y="4.5">O</text></g>
</g>
<g id="L3c-2" transform="translate(437.5 895)">
<g id="L3c-2-A" class="e"><circle r="9.2"/><text y="4.5">A</text></g>
<g id="L3c-2-B" class="x" transform="translate(-61.5 38.5)"><circle r="9.5"/></g>
<g id="L3c-2-C" class="e" transform="translate(61.5 38.5)"><circle r="9.2"/><text y="4.5">C</text></g>
<g id="L3c-2-D" class="x" transform="translate(-92.25 77)"><circle r="9.5"/></g>
<g id="L3c-2-E" class="x" transform="translate(-30.75 77)"><circle r="9.5"/></g>
<g id="L3c-2-F" class="f" transform="translate(30.75 77)"><circle r="8.3"/><text y="4.5">F</text><path class="mk" d="M-17.5 -4L-11 0L-17.5 4Z"/></g>
<g id="L3c-2-G" class="f" transform="translate(92.25 77)"><circle r="8.3"/><text y="4.5">G</text></g>
<g id="L3c-2-H" class="x" transform="translate(-107.6 115.5)"><circle r="9.5"/></g>
<g id="L3c-2-I" class="x" transform="translate(-76.9 115.5)"><circle r="9.5"/></g>
<g id="L3c-2-J" class="x" transform="translate(-46.1 115.5)"><circle r="9.5"/></g>
<g id="L3c-2-K" class="x" transform="translate(-15.4 115.5)"><circle r="9.5"/></g>
<g id="L3c-2-L" class="u" transform="translate(15.4 115.5)"><circle r="8.8"/><text y="4.5">L</text></g>
<g id="L3c-2-M" class="u" transform="translate(46.1 115.5)"><circle r="8.8"/><text y="4.5">M</text></g>
<g id="L3c-2-N" class="u" transform="translate(76.9 115.5)"><circle r="8.8"/><text y="4.5">N</text></g>
<g id="L3c-2-O" class="u" transform="translate(107.6 115.5)"><circle r="8.8"/><text y="4.5">O</text></g>
</g>
<g id="L3c-3" transform="translate(692 895)">
<g id="L3c-3-A" class="e"><circle r="9.2"/><text y="4.5">A</text></g>
<g id="L3c-3-B" class="x" transform="translate(-61.5 38.5)"><circle r="9.5"/></g>
<g id="L3c-3-C" class="e" transform="translate(61.5 38.5)"><circle r="9.2"/><text y="4.5">C</text></g>
<g id="L3c-3-D" class="x" transform="translate(-92.25 77)"><circle r="9.5"/></g>
<g id="L3c-3-E" class="x" transform="translate(-30.75 77)"><circle r="9.5"/></g>
<g id="L3c-3-F" class="e" transform="translate(30.75 77)"><circle r="9.2"/><text y="4.5">F</text></g>
<g id="L3c-3-G" class="f" transform="translate(92.25 77)"><circle r="8.3"/><text y="4.5">G</text></g>
<g id="L3c-3-H" class="x" transform="translate(-107.6 115.5)"><circle r="9.5"/></g>
<g id="L3c-3-I" class="x" transform="translate(-76.9 115.5)"><circle r="9.5"/></g>
<g id="L3c-3-J" class="x" transform="translate(-46.1 115.5)"><circle r="9.5"/></g>
<g id="L3c-3-K" class="x" transform="translate(-15.4 115.5)"><circle r="9.5"/></g>
<g id="L3c-3-L" class="f" transform="translate(15.4 115.5)"><circle r="8.3"/><text y="4.5">L</text><path class="mk" d="M-17.5 -4L-11 0L-17.5 4Z"/></g>
<g id="L3c-3-M" class="f" transform="translate(46.1 115.5)"><circle r="8.3"/><text y="4.5">M</text></g>
<g id="L3c-3-N" class="u" transform="translate(76.9 115.5)"><circle r="8.8"/><text y="4.5">N</text></g>
<g id="L3c-3-O" class="u" transform="translate(107.6 115.5)"><circle r="8.8"/><text y="4.5">O</text></g>
</g>
<g id="L3c-4" transform="translate(948 895)">
<g id="L3c-4-A" class="e"><circle r="9.2"/><text y="4.5">A</text></g>
<g id="L3c-4-B" class="x" transform="translate(-61.5 38.5)"><circle r="9.5"/></g>
<g id="L3c-4-C" class="e" transform="translate(61.5 38.5)"><circle r="9.2"/><text y="4.5">C</text></g>
<g id="L3c-4-D" class="x" transform="translate(-92.25 77)"><circle r="9.5"/></g>
<g id="L3c-4-E" class="x" transform="translate(-30.75 77)"><circle r="9.5"/></g>
<g id="L3c-4-F" class="e" transform="translate(30.75 77)"><circle r="9.2"/><text y="4.5">F</text></g>
<g id="L3c-4-G" class="f" transform="translate(92.25 77)"><circle r="8.3"/><text y="4.5">G</text></g>
<g id="L3c-4-H" class="x" transform="translate(-107.6 115.5)"><circle r="9.5"/></g>
<g id="L3c-4-I" class="x" transform="translate(-76.9 115.5)"><circle r="9.5"/></g>
<g id="L3c-4-J" class="x" transform="translate(-46.1 115.5)"><circle r="9.5"/></g>
<g id="L3c-4-K" class="x" transform="translate(-15.4 115.5)"><circle r="9.5"/></g>
<g id="L3c-4-L" class="x" transform="translate(15.4 115.5)"><circle r="9.5"/></g>
<g id="L3c-4-M" class="f" transform="translate(46.1 115.5)"><circle r="8.3"/><text y="4.5">M</text><path class="mk" d="M-17.5 -4L-11 0L-17.5 4Z"/></g>
<g id="L3c-4-N" class="u" transform="translate(76.9 115.5)"><circle r="8.8"/><text y="4.5">N</text></g>
<g id="L3c-4-O" class="u" transform="translate(107.6 115.5)"><circle r="8.8"/><text y="4.5">O</text></g>
</g>
</g>
<g id="caption">
<text class="cap" x="75" y="1075" font-weight="bold">Figure 3.19</text>
<text class="cap" x="232" y="1075">Four iterations of iterative deepening search on a binary tree.</text>
</g>
</svg>
